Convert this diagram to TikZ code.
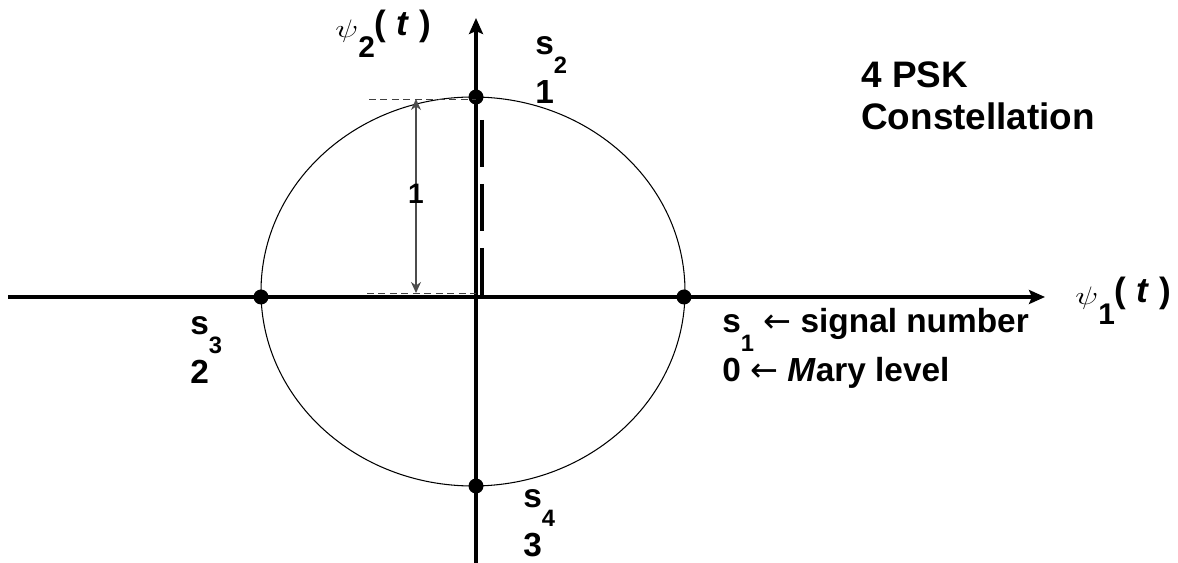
\documentclass[tikz,border=0pt]{standalone}
\usepackage{fontspec}
\setmainfont{Liberation Sans}
\newfontfamily\arrowfont{DejaVu Sans}
\usepackage{graphicx}
\usetikzlibrary{arrows.meta,positioning,calc}

% lowered subscripts as in the slide
\newcommand{\ssub}[1]{\raisebox{-0.37cm}{\fontsize{13.5}{13.5}\selectfont #1}}
\newcommand{\psub}[1]{\raisebox{-0.43cm}{\fontsize{17}{17}\selectfont #1}}
\newcommand{\psiglyph}{\raisebox{-0.04cm}{\scalebox{1.35}[1]{\fontsize{15}{15}\selectfont$\psi$}}}
\newcommand{\larr}{{\arrowfont\mdseries ←}}

\begin{document}
\begin{tikzpicture}[
  x=0.02cm, y=-0.02cm,
  axis/.style={line width=0.08cm, -{Stealth[length=0.32cm, width=0.28cm, inset=0.06cm]}},
  dot/.style={circle, fill=black, inner sep=0pt, minimum size=0.3cm},
  guide/.style={black!75, line width=0.5pt, dash pattern=on 0.14cm off 0.09cm},
  dimarr/.style={black!70, line width=0.6pt,
    {Stealth[length=0.22cm, width=0.2cm, inset=0.07cm]}-{Stealth[length=0.22cm, width=0.2cm, inset=0.07cm]}},
  radius/.style={line width=0.09cm, dash pattern=on 0.95cm off 0.33cm},
  sig/.style={font=\fontsize{19}{28}\selectfont\bfseries, align=left, anchor=base west, inner sep=0pt},
  axlabel/.style={font=\fontsize{20}{20}\selectfont\bfseries, anchor=base west, inner sep=0pt}
]
\useasboundingbox (0,0) rectangle (1178,563);

% Axes
\coordinate (xl) at (8,297);
\coordinate (xr) at (1045,297);
\coordinate (yb) at (476,563);
\coordinate (yt) at (476,18);
\draw[axis] (xl) -- (xr);
\draw[axis] (yb) -- (yt);

% Unit circle
\draw[line width=0.6pt] (473,291.5) ellipse [x radius=212, y radius=194.5];

% Constellation points
\node[dot] (s1) at (684,297) {};
\node[dot] (s2) at (476,97) {};
\node[dot] (s3) at (261,297) {};
\node[dot] (s4) at (476,486) {};

% Amplitude marking
\coordinate (gt) at (369,99);
\coordinate (gb) at (367,293);
\draw[guide] (gt) -- (gt -| s2);
\draw[guide] (gb) -- (gb -| s2);
\coordinate (dt) at (416,99);
\coordinate (db) at (416,293);
\draw[dimarr] (dt) -- (db);
\node[font=\fontsize{16}{16}\selectfont\bfseries, inner sep=0pt] (one) at (416,194) {1};
\coordinate (rt) at (482,120);
\coordinate (rb) at (482,296);
\draw[radius] (rt) -- (rb);

% Axis names
\node[axlabel] (psi2) at (335,36) {\psiglyph\psub{2}( \textit{t} )};
\node[axlabel] (psi1) at (1075,303) {\psiglyph\psub{1}( \textit{t} )};

% Point labels (anchored on the level line)
\node[sig] (l2) at (535,104) {s\ssub{2}\\1};
\node[sig] (l1) at (722,382) {s\ssub{1} \larr{} signal number\\0 \larr{} \textit{M}ary level};
\node[sig] (l3) at (190,384) {s\ssub{3}\\2};
\node[sig] (l4) at (523,557) {s\ssub{4}\\3};

% Title
\node[font=\fontsize{21}{24}\selectfont\bfseries, align=left, anchor=base west, inner sep=0pt]
  (title) at (861,130) {4 PSK\\Constellation};

\end{tikzpicture}
\end{document}
